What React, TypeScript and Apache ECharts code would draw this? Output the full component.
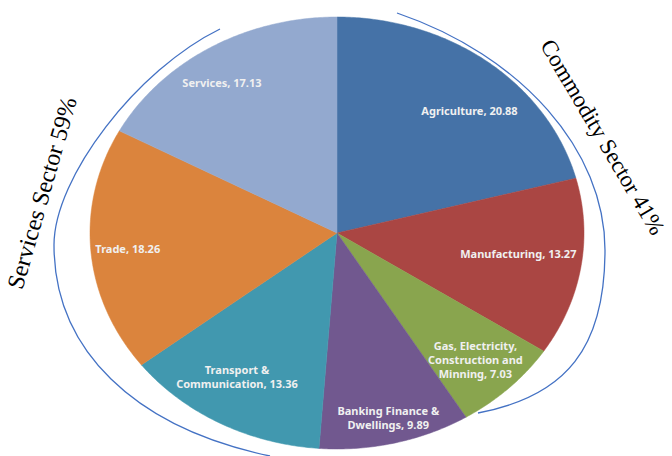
import React, { useEffect, useRef } from "react";
import * as echarts from "echarts";

const categories = [
  "Agriculture",
  "Manufacturing",
  "Gas, Electricity,\nConstruction and\nMinning",
  "Banking Finance &\nDwellings",
  "Transport &\nCommunication",
  "Trade",
  "Services",
];
const values = [20.88, 13.27, 7.03, 9.89, 13.36, 18.26, 17.13];
const sliceColors = ["#4572A7", "#AA4643", "#89A54E", "#71588F", "#4198AF", "#DB843D", "#93A9CF"];
const sectorTitles = ["Services Sector 59%", "Commodity Sector 41%"];

// layout (not data): label radius fraction and angular nudge (deg) per slice
const labelPlacement = [
  [0.78, 5.8],
  [0.74, -2],
  [0.81, 0.4],
  [0.88, 0],
  [0.78, 3],
  [0.85, 0],
  [0.84, -2.8],
];

const CX = 337;
const CY = 233;
const RX = 247;
const RY = 216;

// decorative bracket curves (cubic bezier pieces)
const bracketCurves = [
  { x1: 220, y1: 29, cpx1: 137, cpy1: 69.5, cpx2: 54, cpy2: 177.5, x2: 54, y2: 245 },
  { x1: 54, y1: 245, cpx1: 54, cpy1: 349.6, cpx2: 134, cpy2: 427.6, x2: 270, y2: 456 },
  { x1: 397, y1: 13, cpx1: 521.8, cpy1: 55.6, cpx2: 605, cpy2: 150.4, x2: 605, y2: 250 },
  { x1: 605, y1: 250, cpx1: 605, cpy1: 347.3, cpx2: 566.9, cpy2: 396.2, x2: 478, y2: 413 },
];

export default function App() {
  const ref = useRef<HTMLDivElement>(null);
  useEffect(() => {
    if (!ref.current) return;
    const chart = echarts.init(ref.current, undefined, { renderer: "svg" });
    const total = values.reduce((a, b) => a + b, 0);
    const starts: number[] = [];
    let acc = 0;
    values.forEach((v) => {
      starts.push(acc);
      acc += v;
    });
    chart.setOption({
      animation: false,
      backgroundColor: "#ffffff",
      series: [
        {
          type: "custom",
          coordinateSystem: "none",
          data: values.map((v, i) => ({ value: v, name: categories[i] })),
          renderItem: (params: any, api: any) => {
            const i = params.dataIndex;
            const v = api.value(0) as number;
            const a0 = (starts[i] / total) * 2 * Math.PI;
            const a1 = a0 + (v / total) * 2 * Math.PI;
            const pts: number[][] = [[CX, CY]];
            const n = Math.max(4, Math.ceil((a1 - a0) / 0.01));
            for (let k = 0; k <= n; k++) {
              const a = a0 + ((a1 - a0) * k) / n;
              pts.push([CX + RX * Math.sin(a), CY - RY * Math.cos(a)]);
            }
            const [lr, shift] = labelPlacement[i];
            const mid = (a0 + a1) / 2 + (shift * Math.PI) / 180;
            return {
              type: "group",
              children: [
                {
                  type: "polygon",
                  shape: { points: pts },
                  style: { fill: sliceColors[i], stroke: sliceColors[i], lineWidth: 0.5 },
                },
                {
                  type: "text",
                  x: CX + lr * RX * Math.sin(mid),
                  y: CY - lr * RY * Math.cos(mid),
                  style: {
                    text: `${categories[i]}, ${v.toFixed(2)}`,
                    fill: "#f0f0f0",
                    fontFamily: "Noto Sans",
                    fontWeight: "bold",
                    fontSize: 11,
                    lineHeight: 14,
                    align: "center",
                    verticalAlign: "middle",
                  },
                },
              ],
            };
          },
        },
      ],
      graphic: [
        ...bracketCurves.map((c) => ({
          type: "bezierCurve",
          shape: c,
          style: { stroke: "#4472C4", lineWidth: 1.3, fill: "none" },
        })),
        {
          type: "text",
          x: 42,
          y: 193,
          rotation: (74 * Math.PI) / 180,
          style: {
            text: sectorTitles[0],
            fontFamily: "Liberation Serif",
            fontSize: 24,
            fill: "#000",
            align: "center",
            verticalAlign: "middle",
            textAlign: "center",
            textVerticalAlign: "middle",
          },
        },
        {
          type: "text",
          x: 603,
          y: 137,
          rotation: (-59.5 * Math.PI) / 180,
          style: {
            text: sectorTitles[1],
            fontFamily: "Liberation Serif",
            fontSize: 23,
            fill: "#000",
            align: "center",
            verticalAlign: "middle",
            textAlign: "center",
            textVerticalAlign: "middle",
          },
        },
      ],
    });
    return () => chart.dispose();
  }, []);
  return (
    <div
      ref={ref}
      style={{ position: "fixed", left: 0, top: 0, width: 672, height: 456 }}
    />
  );
}
